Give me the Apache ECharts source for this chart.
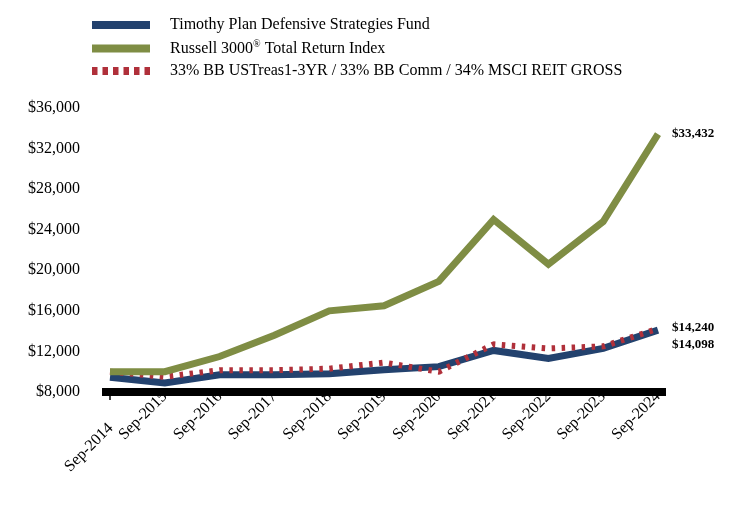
<!DOCTYPE html>
<html>
<head>
<meta charset="utf-8">
<script src="https://cdn.jsdelivr.net/npm/echarts@6/dist/echarts.min.js"></script>
<style>html,body{margin:0;padding:0;background:#fff;}#c{width:744px;height:516px;}</style>
</head>
<body>
<div id="c"></div>
<script>
var categories = ['Sep-2014','Sep-2015','Sep-2016','Sep-2017','Sep-2018','Sep-2019','Sep-2020','Sep-2021','Sep-2022','Sep-2023','Sep-2024'];
var fundValues = [9450, 8900, 9700, 9700, 9800, 10200, 10500, 12100, 11300, 12300, 14098];
var russellValues = [10000, 10000, 11500, 13600, 16000, 16500, 18900, 25000, 20600, 24800, 33432];
var blendValues = [10000, 9500, 10150, 10150, 10300, 10900, 10000, 12700, 12300, 12500, 14240];
var yTicks = {min: 8000, max: 36000, interval: 4000};
var seriesNames = ['Timothy Plan Defensive Strategies Fund', 'Russell 3000® Total Return Index', '33% BB USTreas1-3YR / 33% BB Comm / 34% MSCI REIT GROSS'];

var FONT = 'Liberation Serif, Times New Roman, serif';
function money(v){ return '$' + Math.round(v).toLocaleString('en-US'); }

var chart = echarts.init(document.getElementById('c'), null, {renderer:'canvas'});
var xData = categories.map(function(c, i){
  if (i === 0) return {value: c, textStyle: {lineHeight: 46, padding: [0, 22, 0, 0]}};
  return c;
});
var dashIcon = 'path://M0,0h5.5v8h-5.5z M10.5,0h5.5v8h-5.5z M21,0h5.5v8h-5.5z M31.5,0h5.5v8h-5.5z M42,0h5.5v8h-5.5z M52.5,0h5.5v8h-5.5z';
chart.setOption({
  animation: false,
  legend: {
    orient: 'vertical', left: 92, top: 17, padding: 0,
    itemWidth: 58, itemHeight: 8, itemGap: 6.5,
    textStyle: {fontFamily: FONT, fontSize: 16, color: '#000', padding: [0,0,0,15],
      rich: {sup: {fontFamily: FONT, fontSize: 10, verticalAlign: 'top', padding: [0,0,8,0], color:'#000'}}},
    formatter: function(n){ return n.replace('®', '{sup|®}'); },
    data: [
      {name: seriesNames[0], icon: 'rect', itemStyle: {color: '#23426E'}},
      {name: seriesNames[1], icon: 'rect', itemStyle: {color: '#7F8D44'}},
      {name: seriesNames[2], icon: dashIcon, itemStyle: {color: '#B0303A'}}
    ]
  },
  grid: [
    {left: 110, right: 86, top: 108, bottom: 124},
    {left: 102, right: 78, top: 108, bottom: 124}
  ],
  xAxis: [
    {type: 'category', gridIndex: 0, data: xData, boundaryGap: false,
     axisLine: {show: false},
     axisTick: {show: true, length: 8, interval: function(i){ return i === 0; }, lineStyle: {color: '#000', width: 1.5}},
     axisLabel: {interval: 0, rotate: 45, margin: 2, fontFamily: FONT, fontSize: 16, color: '#000',
       formatter: function(v, i){ return i === 0 ? '\n' + v : v; }},
     splitLine: {show: false}},
    {type: 'value', gridIndex: 1, min: 0, max: 1, z: 10,
     axisLine: {show: true, lineStyle: {color: '#000', width: 8, cap: 'butt'}},
     axisTick: {show: false}, axisLabel: {show: false}, splitLine: {show: false}}
  ],
  yAxis: [
    {type: 'value', gridIndex: 0, min: yTicks.min, max: yTicks.max, interval: yTicks.interval,
     axisLine: {show: false}, axisTick: {show: false}, splitLine: {show: false},
     axisLabel: {margin: 30, fontFamily: FONT, fontSize: 16, color: '#000', formatter: money}},
    {type: 'value', gridIndex: 1, min: 0, max: 1, show: false}
  ],
  series: [
    {name: seriesNames[0], type: 'line', data: fundValues, showSymbol: false, symbol: 'none', z: 2,
     lineStyle: {color: '#23426E', width: 7, cap: 'butt', join: 'miter'}, itemStyle: {color: '#23426E'},
     endLabel: {show: true, formatter: function(p){ return money(p.value); }, offset: [6, 14],
       fontFamily: FONT, fontSize: 13, fontWeight: 'bold', color: '#000'}},
    {name: seriesNames[1], type: 'line', data: russellValues, showSymbol: false, symbol: 'none', z: 4,
     lineStyle: {color: '#7F8D44', width: 7, cap: 'butt', join: 'miter'}, itemStyle: {color: '#7F8D44'},
     endLabel: {show: true, formatter: function(p){ return money(p.value); }, offset: [6, 0],
       fontFamily: FONT, fontSize: 13, fontWeight: 'bold', color: '#000'}},
    {name: seriesNames[2], type: 'line', data: blendValues, showSymbol: false, symbol: 'none', z: 3,
     lineStyle: {color: '#B0303A', width: 6, type: [3.5, 6.5], cap: 'butt'}, itemStyle: {color: '#B0303A'},
     endLabel: {show: true, formatter: function(p){ return money(p.value); }, offset: [6, -1],
       fontFamily: FONT, fontSize: 13, fontWeight: 'bold', color: '#000'}}
  ]
});
</script>
</body>
</html>
